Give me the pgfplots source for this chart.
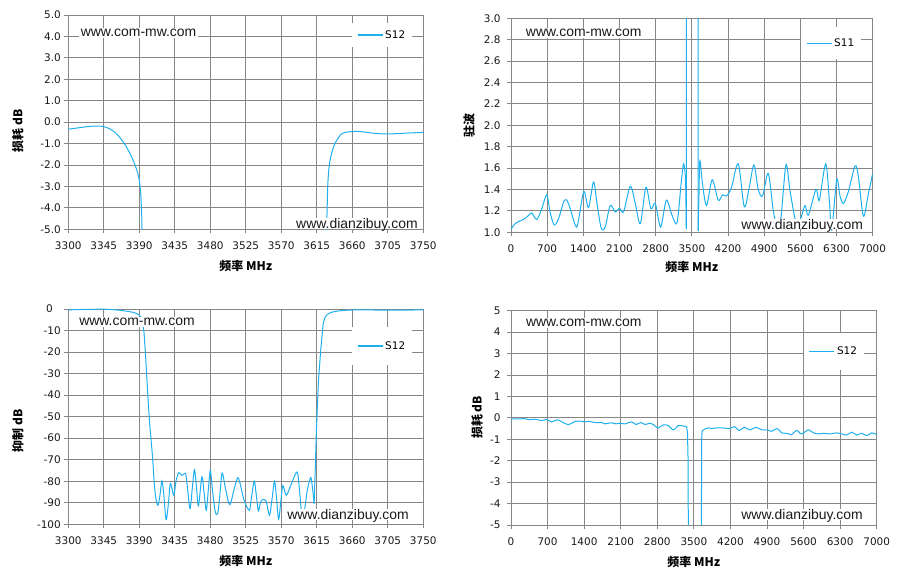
\documentclass[border=0pt]{standalone}
\usepackage{fontspec}
\setmainfont{DejaVu Sans}
\newfontfamily\wmfont{Liberation Sans}
\newfontfamily\cjk{Noto Sans CJK SC}
\usepackage{pgfplots}
\pgfplotsset{compat=1.18}
\definecolor{curve}{RGB}{30,176,238}
\definecolor{gridc}{RGB}{134,134,134}
\pgfplotsset{
 myax/.style={
  scale only axis,
  anchor=south west,
  clip mode=individual,
  grid=major,
  major grid style={draw=gridc, line width=0.9bp},
  axis line style={draw=gridc, line width=0.9bp},
  tick style={draw=gridc, line width=0.9bp},
  major tick length=4bp,
  tick align=outside,
  tick pos=left,
  ticklabel style={font=\fontsize{10.5}{12}\selectfont, text=black!90},
  xticklabel style={yshift=-5bp},
  legend style={draw=none, fill=white, font=\fontsize{10.5}{12}\selectfont, anchor=center, inner xsep=5bp},
  legend cell align=left,
  legend image code/.code={\draw[##1, line width=1.2bp] (0bp,0bp) -- (25bp,0bp);},
 },
}
\tikzset{
 crv/.style={draw=curve, line width=1bp},
 wm/.style={font=\wmfont\fontsize{14}{16}\selectfont, fill=white, inner xsep=2bp, inner ysep=1bp, anchor=base, text=black!90},
 wmb/.style={wm, text depth=0pt, inner ysep=0.3bp},
 lab/.style={font=\cjk\bfseries\fontsize{12}{14}\selectfont},
}
\begin{document}
\begin{tikzpicture}
\useasboundingbox (0,0) rectangle (900bp,577bp);
% ---------------- plot 1 ----------------
\begin{axis}[myax, at={(68.3bp,347.7bp)}, width=355bp, height=214.3bp,
 xmin=3300, xmax=3750, ymin=-5, ymax=5,
 xtick={3300,3345,...,3750}, xticklabels={3300,3345,3390,3435,3480,3525,3570,3615,3660,3705,3750},
 ytick={-5,-4,...,5}, yticklabels={-5.0,-4.0,-3.0,-2.0,-1.0,0.0,1.0,2.0,3.0,4.0,5.0},
 legend style={at={(0.884,0.907)}, inner ysep=5bp}]
\addplot[crv, smooth] coordinates {(3300,-0.33)(3310,-0.28)(3320,-0.23)(3330,-0.19)(3338,-0.18)(3345,-0.21)(3352,-0.30)(3360,-0.50)(3366,-0.75)(3372,-1.05)(3378,-1.45)(3383,-1.85)(3387,-2.25)(3390,-2.7)(3392,-3.4)};
\addlegendentry{S12}
\addplot[crv, forget plot] coordinates {(3392,-3.4)(3393.2,-4.5)(3394,-6)};
\addplot[crv, forget plot] coordinates {(3627,-6)(3627.8,-4.5)(3628.8,-3.0)};
\addplot[crv, smooth, forget plot] coordinates {(3628.8,-3.0)(3630,-2.3)(3632,-1.75)(3635,-1.3)(3638,-1.0)(3642,-0.75)(3646,-0.56)(3652,-0.47)(3660,-0.44)(3667,-0.43)(3675,-0.46)(3685,-0.51)(3695,-0.54)(3705,-0.55)(3720,-0.53)(3735,-0.5)(3750,-0.48)};
\node[wm] at (rel axis cs:0.198,0.899) {www.com-mw.com};
\node[wmb] at (rel axis cs:0.813,0.005) {www.dianzibuy.com};
\node[lab, rotate=90] at (rel axis cs:-0.142,0.459) {损耗 dB};
\node[lab] at (rel axis cs:0.5,-0.171) {频率 MHz};
\end{axis}
% ---------------- plot 2 ----------------
\begin{axis}[myax, at={(511bp,344.7bp)}, width=361.7bp, height=214bp,
 xmin=0, xmax=7000, ymin=1, ymax=3,
 xtick={0,700,...,7000}, xticklabels={0,700,1400,2100,2800,3500,4200,4900,5600,6300,7000},
 ytick={1,1.2,1.4,1.6,1.8,2,2.2,2.4,2.6,2.8,3}, yticklabels={1.0,1.2,1.4,1.6,1.8,2.0,2.2,2.4,2.6,2.8,3.0},
 yticklabel style={xshift=-3bp},
 legend style={at={(0.885,0.884)}, inner ysep=9bp}]
\addplot[crv, smooth] coordinates {(0,1.03)(78,1.08)(142,1.10)(239,1.12)(323,1.15)(401,1.18)(498,1.12)(595,1.22)(692,1.35)(756,1.19)(834,1.07)(918,1.125)(1034,1.30)(1112,1.27)(1241,1.07)(1293,1.08)(1409,1.38)(1500,1.23)(1597,1.47)(1661,1.28)(1745,1.04)(1823,1.05)(1920,1.25)(2017,1.19)(2101,1.225)(2178,1.19)(2308,1.43)(2405,1.27)(2502,1.08)(2611,1.42)(2708,1.22)(2792,1.27)(2896,1.05)(3006,1.30)(3116,1.16)(3213,1.09)(3297,1.48)(3342,1.64)(3378,1.48)(3392,1.03)};
\addlegendentry{S11}
\addplot[crv, forget plot] coordinates {(3392,1.03)(3402,20)(3612,20)(3623,1.01)};
\addplot[crv, smooth, forget plot] coordinates {(3623,1.01)(3638,1.35)(3655,1.67)(3707,1.45)(3784,1.25)(3894,1.49)(4010,1.30)(4094,1.35)(4172,1.34)(4268,1.42)(4398,1.64)(4514,1.24)(4611,1.42)(4701,1.63)(4785,1.40)(4869,1.34)(4979,1.55)(5076,1.20)(5140,1.08)(5218,1.11)(5321,1.63)(5399,1.39)(5515,1.09)(5593,1.11)(5690,1.25)(5754,1.16)(5902,1.40)(5967,1.30)(6090,1.64)(6161,1.30)(6206,1.02)(6303,1.49)(6367,1.34)(6432,1.27)(6529,1.38)(6658,1.62)(6723,1.52)(6820,1.15)(6916,1.36)(7000,1.55)};
\node[wm] at (rel axis cs:0.201,0.914) {www.com-mw.com};
\node[wmb] at (rel axis cs:0.805,0.0154) {www.dianzibuy.com};
\node[lab, rotate=90] at (rel axis cs:-0.116,0.501) {驻波};
\node[lab] at (rel axis cs:0.5,-0.161) {频率 MHz};
\end{axis}
% ---------------- plot 3 ----------------
\begin{axis}[myax, at={(68.3bp,52.7bp)}, width=355bp, height=215.3bp,
 xmin=3300, xmax=3750, ymin=-100, ymax=0,
 xtick={3300,3345,...,3750}, xticklabels={3300,3345,3390,3435,3480,3525,3570,3615,3660,3705,3750},
 ytick={-100,-90,...,0}, yticklabels={-100,-90,-80,-70,-60,-50,-40,-30,-20,-10,0\hspace*{8bp}},
 legend style={at={(0.884,0.828)}, inner ysep=12bp}]
\addplot[crv, smooth] coordinates {(3300,-0.4)(3320,-0.2)(3345,-0.1)(3360,-0.4)(3370,-0.8)(3380,-1.4)(3386,-2.0)(3390,-2.8)};
\addlegendentry{S12}
\addplot[crv, forget plot] coordinates {(3390,-2.8)(3392,-3.8)(3394,-6)(3396,-11)(3398,-22)(3400,-35)(3402,-47)(3403.5,-55)(3405,-61)};
\addplot[crv, smooth, forget plot] coordinates {(3405,-61)(3407,-70)(3409,-81)(3411,-88)(3413.6,-91.2)(3416,-87)(3418.7,-79.9)(3421,-86)(3424,-97.8)(3427,-90)(3429.4,-81)(3433.7,-86.5)(3436.5,-80)(3440,-76)(3444,-77.3)(3448.7,-76.5)(3451,-83)(3454.3,-92.7)(3457,-84)(3459.9,-74.6)(3462.5,-83)(3465,-91.5)(3469.3,-78)(3472,-85)(3474.9,-93.5)(3477.5,-84)(3480,-75)(3483,-85)(3486.4,-94.3)(3489.4,-95)(3492,-87)(3495,-76.2)(3499,-83)(3503.6,-90.4)(3506,-90)(3510,-84)(3515,-78.3)(3519,-83)(3522.9,-88.9)(3529.3,-93.5)(3532,-88)(3535.7,-80)(3538.5,-87)(3540.9,-93.8)(3543.5,-90)(3546.4,-88.5)(3550.7,-89.3)(3555,-95.8)(3558,-89)(3561.4,-80)(3564,-88)(3566.6,-97.7)(3569.5,-89)(3572,-82)(3576.4,-86.5)(3583,-81)(3590,-75.7)(3593,-84)(3596.6,-97.4)(3600,-92)(3603,-84)(3607.3,-78.3)(3609.5,-83)(3611.6,-90.4)};
\addplot[crv, forget plot] coordinates {(3611.6,-90.4)(3613,-75)(3614.5,-56)(3617,-34)(3620,-19)(3623,-7)};
\addplot[crv, smooth, forget plot] coordinates {(3623,-7)(3625,-4.2)(3627.5,-2.8)(3632,-1.8)(3636,-1.3)(3645,-0.8)(3657,-0.5)(3670,-0.4)(3700,-0.5)(3750,-0.45)};
\node[wm] at (rel axis cs:0.1935,0.922) {www.com-mw.com};
\node[wmb] at (rel axis cs:0.788,0.023) {www.dianzibuy.com};
\node[lab, rotate=90] at (rel axis cs:-0.142,0.433) {抑制 dB};
\node[lab] at (rel axis cs:0.5,-0.169) {频率 MHz};
\end{axis}
% ---------------- plot 4 ----------------
\begin{axis}[myax, at={(511bp,52bp)}, width=365.7bp, height=214.3bp,
 xmin=0, xmax=7000, ymin=-5, ymax=5,
 xtick={0,700,...,7000}, xticklabels={0,700,1400,2100,2800,3500,4200,4900,5600,6300,7000},
 ytick={-5,-4,...,5}, yticklabels={-5,-4,-3,-2,-1,0,1,2,3,4,5},
 yticklabel style={xshift=-3bp},
 legend style={at={(0.883,0.809)}, inner ysep=12bp}]
\addplot[crv, smooth] coordinates {(0,-0.05)(130,-0.05)(268,-0.04)(364,-0.09)(459,-0.06)(587,-0.13)(683,-0.07)(778,-0.19)(893,-0.09)(1021,-0.25)(1110,-0.31)(1225,-0.17)(1321,-0.15)(1416,-0.19)(1480,-0.16)(1608,-0.22)(1735,-0.22)(1799,-0.28)(1914,-0.23)(2010,-0.28)(2086,-0.25)(2182,-0.28)(2310,-0.19)(2393,-0.31)(2488,-0.22)(2565,-0.31)(2661,-0.25)(2724,-0.31)(2807,-0.47)(2916,-0.33)(3011,-0.36)(3107,-0.56)(3203,-0.36)(3300,-0.38)(3362,-0.42)};
\addlegendentry{S12}
\addplot[crv, forget plot] coordinates {(3362,-0.42)(3378,-0.7)(3388,-1.8)(3396,-6)};
\addplot[crv, forget plot] coordinates {(3642,-6)(3650,-1.0)(3658,-0.62)};
\addplot[crv, smooth, forget plot] coordinates {(3658,-0.62)(3711,-0.52)(3775,-0.47)(3838,-0.5)(3934,-0.47)(4062,-0.47)(4177,-0.5)(4273,-0.41)(4369,-0.59)(4464,-0.44)(4573,-0.56)(4688,-0.44)(4797,-0.56)(4905,-0.56)(4988,-0.63)(5097,-0.5)(5180,-0.70)(5276,-0.72)(5371,-0.78)(5467,-0.59)(5563,-0.75)(5691,-0.56)(5787,-0.7)(5882,-0.75)(5978,-0.72)(6106,-0.75)(6234,-0.7)(6329,-0.75)(6425,-0.8)(6521,-0.67)(6617,-0.8)(6713,-0.72)(6808,-0.83)(6904,-0.70)(7000,-0.78)};
\node[wm] at (rel axis cs:0.199,0.925) {www.com-mw.com};
\node[wmb] at (rel axis cs:0.796,0.0266) {www.dianzibuy.com};
\node[lab, rotate=90] at (rel axis cs:-0.093,0.502) {损耗 dB};
\node[lab] at (rel axis cs:0.5,-0.173) {频率 MHz};
\end{axis}
\end{tikzpicture}
\end{document}
